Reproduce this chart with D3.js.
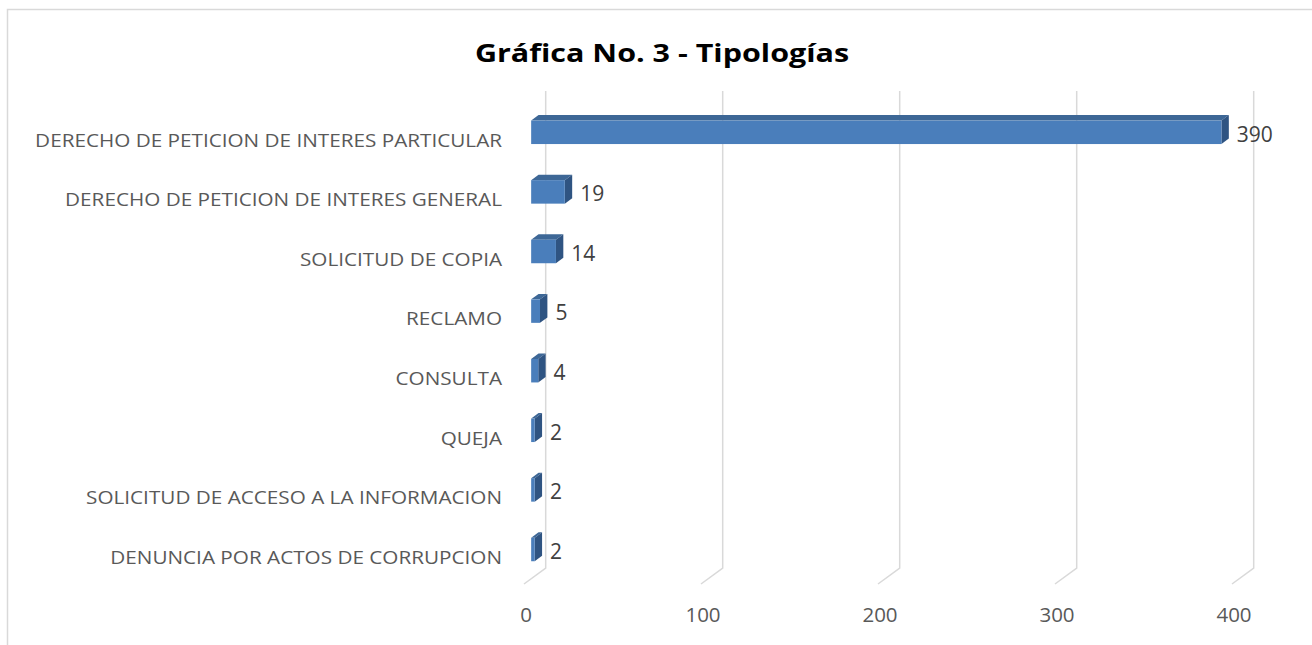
<!DOCTYPE html>
<html>
<head>
<meta charset="utf-8">
<script src="https://cdn.jsdelivr.net/npm/d3@7"></script>
<style>
  body { margin: 0; background: #fff; }
  text { font-family: "Open Sans", sans-serif; }
</style>
</head>
<body>
<svg class="Tipologias" width="1312" height="645"></svg>
<script>
// data
const categories = [
    "DERECHO DE PETICION DE INTERES PARTICULAR",
    "DERECHO DE PETICION DE INTERES GENERAL",
    "SOLICITUD DE COPIA",
    "RECLAMO",
    "CONSULTA",
    "QUEJA",
    "SOLICITUD DE ACCESO A LA INFORMACION",
    "DENUNCIA POR ACTOS DE CORRUPCION"
];
const values = [390, 19, 14, 5, 4, 2, 2, 2];
const ticks = [0, 100, 200, 300, 400];
const title = "Gráfica No. 3 - Tipologías";

function renderTipologias()
{
    const svg = d3.select('.Tipologias');
    const data = categories.map((c, i) => ({ cat: c, value: values[i] }));

    // depth of the 3d floor, front -> back
    const depth = { dx: 21.7, dy: -16 };
    const barFront = 0.33;   // fraction of depth where bar front sits
    const barDepth = 0.34;

    const xScale = d3.scaleLinear()
        .domain([0, 400])
        .range([524, 1232]);

    const yScale = d3.scaleBand()
        .domain(categories)
        .range([102.5, 579.3])
        .paddingInner(0.606)
        .paddingOuter(0.303);

    svg.append('rect')
        .attr('x', 7.5).attr('y', 9.5)
        .attr('width', 1340).attr('height', 700)
        .attr('fill', '#fff')
        .attr('stroke', '#d9d9d9')
        .attr('stroke-width', 1.5);

    // title is wide in the original, stretch it a bit
    svg.append('text')
        .attr('transform', 'translate(662, 62) scale(1.22, 1)')
        .attr('text-anchor', 'middle')
        .attr('font-size', 25)
        .attr('font-weight', 'bold')
        .attr('fill', '#000')
        .text(title);

    // back wall + floor gridlines
    const floorFrontY = 584;
    const wallTop = 91;
    const grid = svg.append('g').attr('class', 'grid');
    grid.selectAll('path')
        .data(ticks)
        .enter()
        .append('path')
        .attr('d', t => {
            const xf = xScale(t);
            return `M${xf + depth.dx},${wallTop} L${xf + depth.dx},${floorFrontY + depth.dy} L${xf},${floorFrontY}`;
        })
        .attr('fill', 'none')
        .attr('stroke', '#d9d9d9')
        .attr('stroke-width', 1.5);

    grid.selectAll('text')
        .data(ticks)
        .enter()
        .append('text')
        .attr('x', t => xScale(t) + 2)
        .attr('y', 622)
        .attr('text-anchor', 'middle')
        .attr('font-size', 20.5)
        .attr('fill', '#595959')
        .text(t => t);

    // bars
    const fx = depth.dx * barFront;
    const bdx = depth.dx * barDepth, bdy = depth.dy * barDepth;
    const bars = svg.append('g').attr('class', 'bars')
        .selectAll('g')
        .data(data)
        .enter()
        .append('g');

    const x0 = () => xScale(0) + fx;
    const x1 = d => xScale(d.value) + fx;
    const yt = d => yScale(d.cat);
    const yb = d => yScale(d.cat) + yScale.bandwidth();

    bars.append('path')
        .attr('d', d => `M${x0()},${yt(d)} L${x1(d)},${yt(d)} L${x1(d) + bdx},${yt(d) + bdy} L${x0() + bdx},${yt(d) + bdy}Z`)
        .attr('fill', '#3d6796');

    bars.append('path')
        .attr('d', d => `M${x1(d)},${yt(d)} L${x1(d) + bdx},${yt(d) + bdy} L${x1(d) + bdx},${yb(d) + bdy} L${x1(d)},${yb(d)}Z`)
        .attr('fill', '#2f5482');

    bars.append('rect')
        .attr('x', x0())
        .attr('y', d => yt(d))
        .attr('width', d => x1(d) - x0())
        .attr('height', yScale.bandwidth())
        .attr('fill', '#4a7ebb');

    bars.append('text')
        .attr('x', d => x1(d) + bdx + 8)
        .attr('y', d => yt(d) + yScale.bandwidth() / 2 + 2)
        .attr('dy', '0.35em')
        .attr('font-size', 21)
        .attr('fill', '#404040')
        .text(d => d.value);

    // category labels
    svg.append('g').attr('class', 'cats')
        .selectAll('text')
        .data(data)
        .enter()
        .append('text')
        .attr('transform', d => `translate(502, ${yScale(d.cat) + yScale.bandwidth() / 2 + 7.7}) scale(1.09, 1)`)
        .attr('dy', '0.35em')
        .attr('text-anchor', 'end')
        .attr('font-size', 19)
        .attr('fill', '#595959')
        .text(d => d.cat);
}

renderTipologias();
</script>
</body>
</html>
